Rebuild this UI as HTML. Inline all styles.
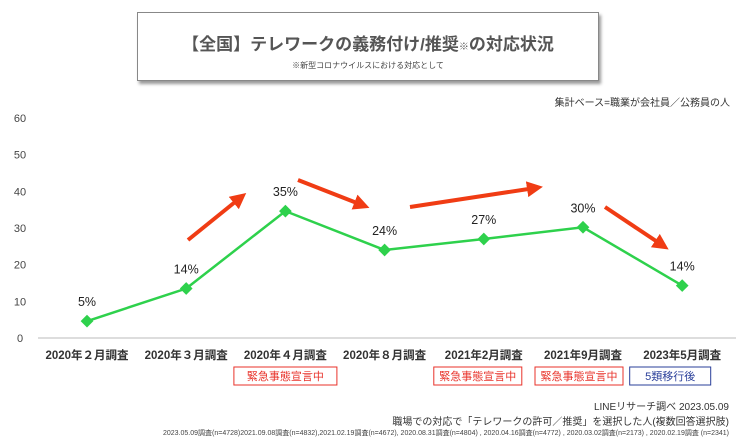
<!DOCTYPE html>
<html><head><meta charset="utf-8"><style>
body{margin:0;width:740px;height:439px;background:#fff;overflow:hidden;font-family:"Liberation Sans","Noto Sans CJK JP",sans-serif;position:relative}
.t{position:absolute;white-space:nowrap}
</style></head><body>
<div style="position:absolute;left:137px;top:12px;width:460px;height:67px;border:1px solid #888;box-shadow:2px 3px 3px #999;background:#fff"></div>
<div class="t" style="left:137px;width:462px;text-align:center;top:30px;font-size:17px;font-weight:bold;color:#555">【全国】テレワークの義務付け/推奨<span style="font-size:10px">※</span>の対応状況</div>
<div class="t" style="left:137px;width:462px;text-align:center;top:60px;font-size:8px;color:#444">※新型コロナウイルスにおける対応として</div>
<div class="t" style="right:10px;top:94px;font-size:10px;color:#333">集計ベース=職業が会社員／公務員の人</div>
<svg id="c" width="740" height="439" style="position:absolute;left:0;top:0"></svg>
<div class="t" style="right:11px;top:398px;font-size:10px;color:#333">LINEリサーチ調べ 2023.05.09</div>
<div class="t" style="right:11px;top:413px;font-size:10px;color:#333">職場での対応で「テレワークの許可／推奨」を選択した人(複数回答選択肢)</div>
<div class="t" style="right:11px;top:428px;font-size:7px;color:#444">2023.05.09調査(n=4728)2021.09.08調査(n=4832),2021.02.19調査(n=4672), 2020.08.31調査(n=4804) , 2020.04.16調査(n=4772) , 2020.03.02調査(n=2173) , 2020.02.19調査 (n=2341)</div>
<script>
const categories=["2020年２月調査","2020年３月調査","2020年４月調査","2020年８月調査","2021年2月調査","2021年9月調査","2023年5月調査"];
const values=[4.6,13.5,34.6,24,27,30.2,14.3];
const valueLabels=["5%","14%","35%","24%","27%","30%","14%"];
const yTicks=[0,10,20,30,40,50,60];
const badges=[null,null,"緊急事態宣言中",null,"緊急事態宣言中","緊急事態宣言中","5類移行後"];
const NS="http://www.w3.org/2000/svg";
const svg=document.getElementById('c');
const x0=87,dx=99.2,yb=338,yt=118;
const X=i=>x0+i*dx, Y=v=>yb-(v/60)*(yb-yt);
const badgeShift=[0,0,0,0,-6,-4,-12];
function mk(t,a,p){const e=document.createElementNS(NS,t);for(const k in a)e.setAttribute(k,a[k]);(p||svg).appendChild(e);return e;}
const axis=mk('line',{x1:38,x2:736,y1:yb,y2:yb,stroke:'#bbb'});


yTicks.forEach(v=>{const t=mk('text',{x:20,y:Y(v)+4,'text-anchor':'middle','font-size':11,fill:'#444'});t.textContent=v;

});
const defs=mk('defs',{});
const m=mk('marker',{id:'ah',markerWidth:4,markerHeight:4,refX:2,refY:2,orient:'auto'},defs);
mk('path',{d:'M0,0 L4,2 L0,4 Z',fill:'#f03c14'},m);
[[188,240,240,198],[298,180,362,205],[410,207,535,188],[605,207,662,245]].forEach(a=>{const l=mk('line',{x1:a[0],y1:a[1],x2:a[2],y2:a[3],stroke:'#f03c14','stroke-width':4,'marker-end':'url(#ah)'});

});
const line=mk('polyline',{points:values.map((v,i)=>X(i)+','+Y(v)).join(' '),fill:'none',stroke:'#2ed14c','stroke-width':2.5});


values.forEach((v,i)=>{const p=mk('rect',{x:X(i)-4.5,y:Y(v)-4.5,width:9,height:9,fill:'#2ed14c',transform:`rotate(45 ${X(i)} ${Y(v)})`});


const t=mk('text',{x:X(i),y:Y(v)-15,'text-anchor':'middle','font-size':12.5,fill:'#222'});t.textContent=valueLabels[i];


const c=mk('text',{x:X(i),y:359,'text-anchor':'middle','font-size':11.5,'font-weight':'bold',fill:'#333'});c.textContent=categories[i];


if(badges[i]){const col=badges[i]==="5類移行後"?'#2a3f9a':'#e8322a';const w=i===2?103:(i===6?81:88);const bx=X(i)+badgeShift[i];
const b=mk('rect',{x:bx-w/2,y:367,width:w,height:18,fill:'#fff',stroke:col,'stroke-width':1});


const bt=mk('text',{x:bx,y:380,'text-anchor':'middle','font-size':11,fill:col});bt.textContent=badges[i];

}
});
</script>
</body></html>
